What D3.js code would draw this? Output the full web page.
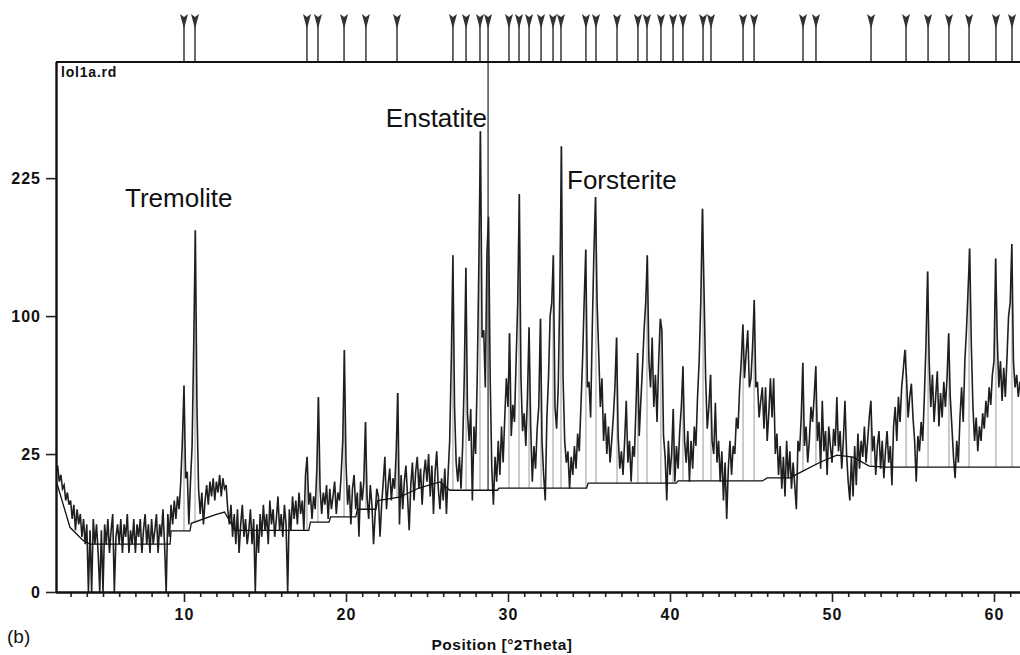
<!DOCTYPE html>
<html>
<head>
<meta charset="utf-8">
<script src="https://cdn.jsdelivr.net/npm/d3@7"></script>
<style>
  body { margin: 0; background: #fff; }
  svg { display: block; font-family: "Liberation Sans", Arial, sans-serif; }
</style>
</head>
<body>
<svg id="chart" width="1020" height="655"></svg>
<script>
// measured pattern, one value per 0.1 deg 2theta starting at 2.0
const thetaStart = 2.0, thetaStep = 0.1;
const counts = [
  22, 19, 21, 16, 18, 14, 15, 11, 13, 10,
  11, 7, 10, 5, 9, 6, 8, 4, 7, 3,
  6, 0, 5, 0, 7, 3, 6, 2, 0, 5,
  0, 6, 3, 7, 2, 5, 8, 0, 4, 6,
  3, 7, 2, 6, 4, 8, 2, 5, 3, 7,
  2, 6, 4, 7, 2, 5, 8, 3, 6, 2,
  7, 3, 5, 8, 2, 6, 4, 9, 3, 0,
  8, 4, 10, 6, 11, 7, 12, 9, 16, 30,
  56, 17, 19, 6, 16, 28, 80, 172, 45, 14,
  8, 13, 6, 11, 15, 10, 16, 12, 17, 11,
  16, 13, 18, 12, 17, 14, 15, 9, 6, 10,
  4, 8, 3, 9, 2, 6, 10, 4, 7, 3,
  5, 9, 3, 7, 0, 6, 2, 8, 4, 10,
  5, 8, 3, 11, 6, 9, 4, 7, 12, 5,
  8, 4, 10, 6, 0, 9, 5, 12, 7, 11,
  6, 13, 8, 11, 5, 18, 24, 10, 13, 7,
  12, 9, 20, 50, 14, 8, 13, 10, 15, 7,
  14, 9, 12, 16, 8, 13, 11, 18, 30, 77,
  22, 10, 15, 6, 14, 18, 9, 13, 4, 16,
  11, 16, 38, 12, 7, 15, 10, 3, 8, 14,
  12, 4, 10, 16, 24, 9, 15, 20, 11, 17,
  14, 26, 52, 6, 18, 9, 16, 21, 12, 5,
  15, 22, 11, 19, 24, 14, 20, 10, 18, 23,
  16, 25, 12, 21, 8, 19, 26, 14, 9, 17,
  11, 20, 8, 18, 30, 70, 149, 45, 22, 16,
  24, 14, 28, 60, 138, 42, 30, 44, 11, 36,
  25, 60, 140, 279, 85, 90, 55, 150, 185, 60,
  20, 10, 24, 16, 30, 18, 36, 22, 40, 60,
  45, 88, 32, 46, 38, 70, 110, 208, 60, 34,
  42, 28, 50, 92, 36, 16, 28, 20, 35, 45,
  98, 30, 18, 11, 40, 60, 100, 110, 149, 45,
  35, 55, 120, 261, 60, 30, 22, 26, 14, 24,
  18, 28, 20, 33, 26, 45, 70, 110, 154, 55,
  58, 40, 90, 150, 205, 110, 75, 45, 60, 30,
  42, 25, 36, 22, 30, 40, 55, 85, 32, 20,
  26, 18, 30, 48, 22, 30, 16, 28, 24, 45,
  75, 32, 48, 66, 90, 110, 149, 70, 55, 85,
  45, 62, 38, 70, 98, 90, 32, 24, 11, 30,
  18, 25, 44, 16, 28, 20, 34, 45, 67, 30,
  22, 34, 16, 30, 20, 36, 28, 50, 70, 110,
  193, 120, 60, 35, 45, 62, 30, 25, 47, 22,
  30, 16, 26, 11, 22, 7, 20, 30, 18, 28,
  25, 40, 35, 55, 70, 94, 60, 75, 90, 55,
  60, 80, 112, 55, 58, 40, 48, 55, 35, 55,
  30, 42, 60, 40, 60, 25, 33, 18, 28, 14,
  24, 12, 30, 17, 26, 14, 22, 15, 9, 30,
  26, 40, 69, 28, 36, 22, 30, 45, 38, 50,
  67, 30, 38, 20, 48, 26, 34, 18, 36, 28,
  22, 35, 28, 50, 26, 34, 20, 30, 48, 25,
  16, 11, 24, 12, 28, 15, 33, 20, 30, 24,
  36, 22, 30, 40, 48, 26, 32, 18, 28, 34,
  20, 30, 17, 26, 34, 22, 28, 15, 36, 45,
  30, 50, 38, 55, 65, 77, 60, 40, 50, 57,
  40, 30, 16, 32, 26, 38, 30, 50, 80, 135,
  70, 45, 62, 38, 50, 64, 36, 52, 40, 58,
  45, 60, 88, 50, 36, 24, 17, 30, 22, 40,
  55, 38, 70, 90, 120, 155, 80, 45, 30, 40,
  26, 36, 30, 42, 35, 48, 40, 55, 46, 62,
  70, 146, 85, 55, 70, 48, 66, 50, 72, 100,
  110, 159, 70, 55, 62, 50, 58, 52, 60, 55,
  58
];

// fitted background
const bgTheta  = [2.0, 2.47, 2.96, 3.77, 4.2, 9.14, 9.2, 10.37, 10.45, 11.9, 12.5, 13.15, 17.7, 17.8, 18.95, 19.05, 20.6, 20.7, 21.85, 21.95, 23.3, 24.5, 25.8, 26.4, 29.35, 29.45, 34.85, 34.95, 40.4, 40.5, 45.7, 46.0, 47.4, 48.2, 49.3, 50.3, 51.3, 52.3, 53.3, 62.0];
const bgCounts = [18, 11, 5.5, 3.5, 3, 3, 4.9, 4.9, 6.2, 7.8, 8.4, 5, 5, 6.4, 6.4, 7.4, 7.4, 9, 9, 11, 11.8, 14.2, 15.9, 13.6, 13.6, 14.2, 14.2, 15.6, 15.6, 16.2, 16.2, 17.1, 17.1, 19.2, 22.2, 24.6, 23.9, 20.8, 20.5, 20.5];

// peak list (markers on top + sticks)
const markerPos = [10.0, 10.68, 17.59, 18.27, 19.88, 21.23, 23.15, 26.60, 27.41, 28.27, 28.77, 30.06, 30.68, 31.30, 32.04, 32.78, 33.27, 34.81, 35.43, 36.73, 38.02, 38.58, 39.44, 40.19, 40.80, 42.04, 42.53, 44.51, 45.19, 48.21, 49.01, 52.41, 54.57, 55.93, 57.22, 58.46, 60.12, 61.11];
const stickHeights = [56, 172, 24, 50, 77, 38, 52, 149, 138, 279, 400, 88, 208, 92, 98, 149, 261, 154, 205, 85, 75, 149, 98, 44, 67, 193, 62, 94, 112, 69, 67, 48, 77, 135, 88, 155, 146, 159];

const xTicks = [10, 20, 30, 40, 50, 60];
const yTicks = [0, 25, 100, 225];

const svg = d3.select("#chart");
const pLeft = 56, pRight = 1020, pTop = 62, pBottom = 592;

const x = d3.scaleLinear().domain([2, 62]).range([54.4, 1026.4]);
const y = d3.scaleSqrt().domain([0, 369]).range([pBottom, pTop]);

svg.append("defs").append("clipPath").attr("id", "plot")
  .append("rect").attr("x", pLeft).attr("y", pTop).attr("width", pRight - pLeft).attr("height", pBottom - pTop);

const plot = svg.append("g").attr("clip-path", "url(#plot)");

// sticks from background
const bgAt = t => {
  let i = d3.bisectRight(bgTheta, t) - 1;
  i = Math.max(0, Math.min(i, bgTheta.length - 2));
  const f = (t - bgTheta[i]) / (bgTheta[i + 1] - bgTheta[i]);
  return bgCounts[i] + f * (bgCounts[i + 1] - bgCounts[i]);
};

plot.append("g").selectAll("line")
  .data(markerPos)
  .enter().append("line")
    .attr("x1", d => x(d)).attr("x2", d => x(d))
    .attr("y1", d => y(bgAt(d)))
    .attr("y2", (d, i) => y(Math.min(stickHeights[i], 369)))
    .attr("stroke", (d, i) => stickHeights[i] > 369 ? "#444" : "#999")
    .attr("stroke-width", (d, i) => stickHeights[i] > 369 ? 1.4 : 1);

// measured profile
const profile = d3.line()
  .x((d, i) => x(thetaStart + i * thetaStep))
  .y(d => y(d));

plot.append("path")
  .datum(counts)
  .attr("d", profile)
  .attr("fill", "none")
  .attr("stroke", "#1f1f1f")
  .attr("stroke-width", 1.6)
  .attr("stroke-linejoin", "miter");

// background line
plot.append("path")
  .datum(bgTheta.map((t, i) => [t, bgCounts[i]]))
  .attr("d", d3.line().x(d => x(d[0])).y(d => y(d[1])))
  .attr("fill", "none")
  .attr("stroke", "#111")
  .attr("stroke-width", 1.3);

// reference markers above the frame
const mk = svg.append("g").selectAll("g")
  .data(markerPos)
  .enter().append("g")
    .attr("transform", d => `translate(${x(d)},0)`);
mk.append("line")
  .attr("y1", 24).attr("y2", pTop)
  .attr("stroke", "#444").attr("stroke-width", 1.6);
mk.append("path")
  .attr("d", "M-4,14 L0,17 L4,14 L0,29 Z")
  .attr("fill", "#333");

// frame
svg.append("line").attr("x1", pLeft).attr("x2", pRight).attr("y1", pTop).attr("y2", pTop)
  .attr("stroke", "#111").attr("stroke-width", 2.2);

// axes
const yAxis = svg.append("g")
  .attr("transform", `translate(${pLeft},0)`)
  .call(d3.axisLeft(y).tickValues(yTicks).tickSize(10).tickSizeOuter(0).tickPadding(5));

const xMinor = svg.append("g")
  .attr("transform", `translate(0,${pBottom})`)
  .call(d3.axisBottom(x).tickValues(d3.range(3, 62).filter(v => v % 10 !== 0)).tickSize(5).tickSizeOuter(0).tickFormat(""));

const xAxis = svg.append("g")
  .attr("transform", `translate(0,${pBottom})`)
  .call(d3.axisBottom(x).tickValues(xTicks).tickSize(10).tickSizeOuter(0).tickPadding(7));

xAxis.select(".domain").attr("d", `M${pLeft},0.5H${pRight}`);
xMinor.select(".domain").remove();
yAxis.select(".domain").attr("d", `M0.5,${pTop}V${pBottom + 1}`);

svg.selectAll(".domain").attr("stroke", "#111").attr("stroke-width", 2.4);
svg.selectAll(".tick line").attr("stroke", "#222").attr("stroke-width", 1.6);
svg.selectAll(".tick text")
  .style("font-family", "Liberation Sans, Arial, sans-serif")
  .style("font-size", "16px")
  .style("font-weight", "bold")
  .style("letter-spacing", "1px")
  .attr("fill", "#111");

// texts
svg.append("text").attr("x", 61).attr("y", 77)
  .style("font-size", "14px").style("font-weight", "bold").style("letter-spacing", "0.8px")
  .attr("fill", "#111").text("lol1a.rd");

const phase = svg.append("g").style("font-size", "26px").attr("fill", "#111");
phase.append("text").attr("x", 125).attr("y", 207).text("Tremolite");
phase.append("text").attr("x", 487).attr("y", 127).attr("text-anchor", "end").text("Enstatite");
phase.append("text").attr("x", 567).attr("y", 189).text("Forsterite");

svg.append("text").attr("x", 502).attr("y", 650).attr("text-anchor", "middle")
  .style("font-size", "15.5px").style("font-weight", "bold").style("letter-spacing", "0.5px")
  .attr("fill", "#111").text("Position [°2Theta]");

svg.append("text").attr("x", 7).attr("y", 643)
  .style("font-size", "19px").attr("fill", "#111").text("(b)");
</script>
</body>
</html>
